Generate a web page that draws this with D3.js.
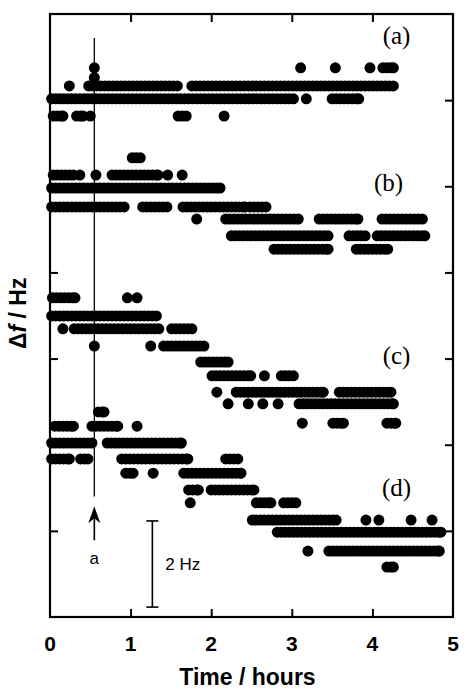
<!DOCTYPE html>
<html lang="en">
<head>
<meta charset="utf-8">
<title>Frequency shift vs time</title>
<style>
  body { margin: 0; background: #fff; }
  .tick-num { font-family: "Liberation Sans", Arial, sans-serif; font-size: 21px; font-weight: bold; fill: #000; text-anchor: middle; }
  .axis-title { font-family: "Liberation Sans", Arial, sans-serif; font-size: 23px; font-weight: bold; fill: #000; text-anchor: middle; }
  .panel-label { font-family: "Liberation Serif", "Times New Roman", serif; font-size: 25px; fill: #000; text-anchor: middle; }
  .note { font-family: "Liberation Sans", Arial, sans-serif; font-size: 17px; fill: #000; }
</style>
</head>
<body>
<div id="chart"></div>
<script src="https://cdn.jsdelivr.net/npm/d3@7"></script>
<script>

// each record: [level (Hz, on the stacked axis), run start (h), run end (h)]
var seriesA = [
  [12.75, 0.55, 0.55], [12.75, 3.11, 3.11], [12.75, 3.54, 3.54], [12.75, 3.97, 3.97], [12.75, 4.13, 4.26],
  [12.52, 0.55, 0.55],
  [12.33, 0.24, 0.24], [12.33, 0.48, 1.59], [12.33, 1.76, 4.27],
  [12.03, 0.02, 3.03], [12.03, 3.18, 3.18], [12.03, 3.50, 3.83],
  [11.63, 0.04, 0.16], [11.63, 0.33, 0.41], [11.63, 0.50, 0.50], [11.63, 1.59, 1.69], [11.63, 2.16, 2.16]
];
var seriesB = [
  [10.66, 1.02, 1.12],
  [10.26, 0.04, 0.29], [10.26, 0.37, 0.37], [10.26, 0.57, 0.57], [10.26, 0.77, 1.34], [10.26, 1.46, 1.46], [10.26, 1.64, 1.64],
  [9.96, 0.02, 2.11],
  [9.52, 0.02, 0.93], [9.52, 1.15, 1.46], [9.52, 1.65, 2.42], [9.52, 2.48, 2.69],
  [9.24, 1.82, 1.82], [9.24, 2.18, 3.08], [9.24, 3.34, 3.82], [9.24, 4.12, 4.63],
  [8.85, 2.25, 3.46], [8.85, 3.71, 3.92], [8.85, 4.06, 4.65],
  [8.54, 2.78, 3.45], [8.54, 3.80, 4.19]
];
var seriesC = [
  [7.41, 0.03, 0.31], [7.41, 0.96, 0.96], [7.41, 1.08, 1.08],
  [6.99, 0.02, 1.32],
  [6.69, 0.16, 0.16], [6.69, 0.30, 1.35], [6.69, 1.51, 1.77],
  [6.29, 0.55, 0.55], [6.29, 1.25, 1.25], [6.29, 1.41, 1.91],
  [5.92, 1.87, 2.21],
  [5.60, 2.01, 2.49], [5.60, 2.66, 2.66], [5.60, 2.87, 3.03],
  [5.22, 2.07, 2.07], [5.22, 2.31, 3.39], [5.22, 3.59, 4.23],
  [4.95, 2.21, 2.21], [4.95, 2.46, 2.46], [4.95, 2.64, 2.64], [4.95, 2.83, 2.83], [4.95, 3.09, 4.26],
  [4.50, 3.13, 3.13], [4.50, 3.51, 3.64], [4.50, 4.18, 4.29]
];
var seriesD = [
  [4.76, 0.60, 0.67],
  [4.43, 0.06, 0.29], [4.43, 0.52, 0.84], [4.43, 1.08, 1.08],
  [4.04, 0.02, 0.53], [4.04, 0.71, 1.63],
  [3.67, 0.02, 0.24], [3.67, 0.38, 0.47], [3.67, 0.89, 1.71], [3.67, 2.18, 2.33],
  [3.34, 0.94, 1.03], [3.34, 1.28, 1.28], [3.34, 1.66, 2.37],
  [2.95, 1.72, 1.84], [2.95, 2.00, 2.53],
  [2.65, 1.74, 1.74], [2.65, 2.56, 2.74], [2.65, 2.90, 3.05],
  [2.25, 2.51, 3.55], [2.25, 3.92, 3.92], [2.25, 4.08, 4.08], [2.25, 4.48, 4.48], [2.25, 4.74, 4.74],
  [1.97, 2.82, 4.85],
  [1.53, 3.20, 3.20], [1.53, 3.46, 4.83],
  [1.16, 4.18, 4.26]
];

var panelNames = ["(a)", "(b)", "(c)", "(d)"];
var panelLabelPos = [[4.3, 13.3], [4.2, 9.9], [4.3, 5.87], [4.3, 2.82]];  // [hours, Hz]
var xTicks = [0, 1, 2, 3, 4, 5];
var yTicks = [2, 4, 6, 8, 10, 12];
var sampleStep = 0.05;     // hours between readings
var markerTime = 0.55;     // event "a"
var scaleBar = [0.23, 2.23]; // 2 Hz bar, in Hz

var W = 473, H = 690;
var x = d3.scaleLinear().domain([0, 5]).range([50, 453]);
var y = d3.scaleLinear().domain([0, 14]).range([617, 14]);

var svg = d3.select("#chart").append("svg")
  .attr("width", W).attr("height", H);

// expand the runs into the individual readings
function expand(runs) {
  var pts = [];
  runs.forEach(function(r) {
    var ts = d3.range(r[1], r[2] + 1e-9, sampleStep);
    if (ts[ts.length - 1] < r[2] - 0.01) ts.push(r[2]);
    ts.forEach(function(t) { pts.push([t, r[0]]); });
  });
  return pts;
}

var allPts = [].concat(expand(seriesA), expand(seriesB), expand(seriesC), expand(seriesD));

svg.append("g").selectAll("circle")
  .data(allPts)
  .enter().append("circle")
  .attr("cx", function(d){ return x(d[0]); })
  .attr("cy", function(d){ return y(d[1]); })
  .attr("r", 5.5)
  .attr("fill", "#000");

// marker line for event a
svg.append("line")
  .attr("x1", x(markerTime)).attr("x2", x(markerTime))
  .attr("y1", y(13.44)).attr("y2", y(2.8))
  .attr("stroke", "#000").attr("stroke-width", 1.3);

// arrow
svg.append("line")
  .attr("x1", x(markerTime)).attr("x2", x(markerTime))
  .attr("y1", y(1.78)).attr("y2", y(2.3))
  .attr("stroke", "#000").attr("stroke-width", 1.6);
svg.append("path")
  .attr("d", function(){
    var cx = x(markerTime), ty = y(2.57);
    return "M" + cx + "," + ty + "L" + (cx - 6) + "," + (ty + 17) + "L" + cx + "," + (ty + 12) + "L" + (cx + 6) + "," + (ty + 17) + "Z";
  })
  .attr("fill", "#000");
svg.append("text")
  .attr("class", "note")
  .attr("x", x(markerTime)).attr("y", y(1.23))
  .attr("text-anchor", "middle")
  .text("a");

// 2 Hz scale bar
var barX = x(1.27);
svg.append("line")
  .attr("x1", barX).attr("x2", barX)
  .attr("y1", y(scaleBar[0])).attr("y2", y(scaleBar[1]))
  .attr("stroke", "#000").attr("stroke-width", 1.6);
scaleBar.forEach(function(v){
  svg.append("line")
    .attr("x1", barX - 6).attr("x2", barX + 6)
    .attr("y1", y(v)).attr("y2", y(v))
    .attr("stroke", "#000").attr("stroke-width", 1.6);
});
svg.append("text")
  .attr("class", "note")
  .attr("x", barX + 13).attr("y", y(1.1))
  .text("2 Hz");

// panel labels
svg.selectAll("text.panel-label")
  .data(panelNames)
  .enter().append("text")
  .attr("class", "panel-label")
  .attr("x", function(d, i){ return x(panelLabelPos[i][0]); })
  .attr("y", function(d, i){ return y(panelLabelPos[i][1]); })
  .text(function(d){ return d; });

// frame
svg.append("rect")
  .attr("x", x(0)).attr("y", y(14))
  .attr("width", x(5) - x(0)).attr("height", y(0) - y(14))
  .attr("fill", "none").attr("stroke", "#000").attr("stroke-width", 2.2);

// inward ticks
var tickLen = 8;
svg.append("g").attr("transform", "translate(0," + y(0) + ")")
  .call(d3.axisBottom(x).tickValues(xTicks.slice(1, -1)).tickSize(-tickLen).tickFormat(""))
  .call(function(g){ g.select(".domain").remove(); g.selectAll("line").attr("stroke-width", 2); });
svg.append("g").attr("transform", "translate(0," + y(14) + ")")
  .call(d3.axisTop(x).tickValues(xTicks.slice(1, -1)).tickSize(-tickLen).tickFormat(""))
  .call(function(g){ g.select(".domain").remove(); g.selectAll("line").attr("stroke-width", 2); });
svg.append("g").attr("transform", "translate(" + x(0) + ",0)")
  .call(d3.axisLeft(y).tickValues(yTicks).tickSize(-tickLen).tickFormat(""))
  .call(function(g){ g.select(".domain").remove(); g.selectAll("line").attr("stroke-width", 2); });
svg.append("g").attr("transform", "translate(" + x(5) + ",0)")
  .call(d3.axisRight(y).tickValues(yTicks).tickSize(-tickLen).tickFormat(""))
  .call(function(g){ g.select(".domain").remove(); g.selectAll("line").attr("stroke-width", 2); });

// x tick numbers
svg.selectAll("text.tick-num")
  .data(xTicks)
  .enter().append("text")
  .attr("class", "tick-num")
  .attr("x", function(d){ return x(d); })
  .attr("y", 651)
  .text(function(d){ return d; });

svg.append("text")
  .attr("class", "axis-title")
  .attr("x", x(2.45)).attr("y", 685)
  .text("Time / hours");

var yTitle = svg.append("text")
  .attr("class", "axis-title")
  .attr("transform", "translate(26," + y(7.05) + ") rotate(-90)");
yTitle.append("tspan").text("\u0394");
yTitle.append("tspan").attr("font-style", "italic").text("f");
yTitle.append("tspan").text(" / Hz");

</script>
</body>
</html>
